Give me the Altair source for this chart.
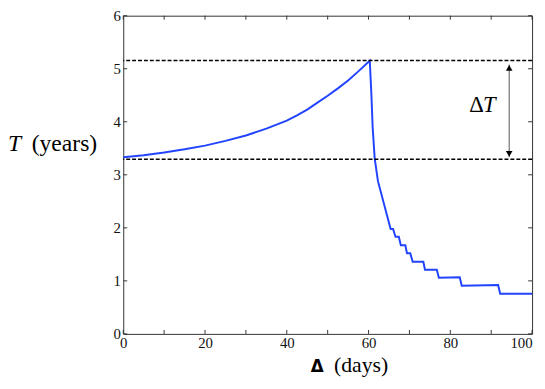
import altair as alt
import pandas as pd

# ---------------- data ----------------
days = [0, 5, 10, 15, 20, 25, 30, 35, 40, 42.5, 45, 47.5, 50, 52.5, 55, 57.5, 60.3,
        60.7, 61.0, 61.5, 62.3, 65.4, 66.0, 66.6, 67.4, 67.9, 69.0, 69.4, 70.2,
        70.8, 73.4, 73.8, 76.7, 77.2, 82.3, 82.8, 91.7, 92.2, 100]
T_years = [3.33, 3.37, 3.42, 3.48, 3.55, 3.64, 3.74, 3.87, 4.02, 4.12, 4.23, 4.36, 4.49, 4.63, 4.78, 4.95, 5.15,
           4.51, 3.90, 3.31, 2.88, 1.98, 1.98, 1.83, 1.83, 1.67, 1.67, 1.52, 1.52,
           1.36, 1.36, 1.21, 1.21, 1.06, 1.07, 0.91, 0.92, 0.755, 0.755]
levels = [5.155, 3.293]
x_ticks = [0, 10, 20, 30, 40, 50, 60, 70, 80, 90, 100]
y_ticks = [0, 1, 2, 3, 4, 5, 6]

line_df = pd.DataFrame({"day": days, "T": T_years, "idx": list(range(len(days)))})
lev_df = pd.DataFrame({"level": levels})
xt_df = pd.DataFrame({"xt": x_ticks})
yt_df = pd.DataFrame({"yt": y_ticks})
one = pd.DataFrame({"a": [0]})

FONT = "Liberation Serif"
W, H = 415, 323
TICK = 4
TICK_COLOR = "#333"
xscale = alt.Scale(domain=[0, 100], nice=False, zero=False)
yscale = alt.Scale(domain=[0, 6], nice=False, zero=False)

common = dict(domain=False, grid=False, ticks=False, labelFont=FONT, labelFontSize=15,
              labelColor="#111", title=None)

x_axis = alt.Axis(values=x_ticks, labelFlush=False, labelPadding=2,
                  labelExpr="datum.value % 20 == 0 ? datum.label : ''",
                  labelAlign={"condition": {"test": "datum.value == 100", "value": "right"}, "value": "center"},
                  **common)
y_axis = alt.Axis(values=y_ticks, labelPadding=3, **common)

line = alt.Chart(line_df).mark_line(color="#2244ff", strokeWidth=2).encode(
    x=alt.X("day:Q", scale=xscale, axis=x_axis),
    y=alt.Y("T:Q", scale=yscale, axis=y_axis),
    order="idx:Q",
)

# inward tick marks on all four sides (positions from the scales)
xt_bottom = alt.Chart(xt_df).mark_rule(color=TICK_COLOR, strokeWidth=1).encode(
    x=alt.X("xt:Q", scale=xscale, axis=None), y=alt.value(H), y2=alt.value(H - TICK))
xt_top = alt.Chart(xt_df).mark_rule(color=TICK_COLOR, strokeWidth=1).encode(
    x=alt.X("xt:Q", scale=xscale, axis=None), y=alt.value(0), y2=alt.value(TICK))
yt_left = alt.Chart(yt_df).mark_rule(color=TICK_COLOR, strokeWidth=1).encode(
    y=alt.Y("yt:Q", scale=yscale, axis=None), x=alt.value(0), x2=alt.value(TICK))
yt_right = alt.Chart(yt_df).mark_rule(color=TICK_COLOR, strokeWidth=1).encode(
    y=alt.Y("yt:Q", scale=yscale, axis=None), x=alt.value(W), x2=alt.value(W - TICK))

dashed = alt.Chart(lev_df).mark_rule(color="black", strokeDash=[4, 2], strokeWidth=1.5).encode(
    y=alt.Y("level:Q", scale=yscale, axis=None)
)

arrow_line = alt.Chart(one).mark_rule(color="#555", strokeWidth=1).encode(
    x=alt.XDatum(94.4, scale=xscale, axis=None),
    y=alt.YDatum(3.33, axis=None),
    y2=alt.Y2Datum(5.08),
)
head_up = alt.Chart(one).mark_point(shape="triangle-up", filled=True, color="black",
                                    size=45, opacity=1).encode(
    x=alt.XDatum(94.4, axis=None), y=alt.YDatum(5.015, axis=None))
head_down = alt.Chart(one).mark_point(shape="triangle-down", filled=True, color="black",
                                      size=45, opacity=1).encode(
    x=alt.XDatum(94.4, axis=None), y=alt.YDatum(3.395, axis=None))

dT_delta = alt.Chart(one).mark_text(text="Δ", font=FONT, fontSize=23, align="center",
                                    baseline="middle", color="black").encode(
    x=alt.XDatum(86.4, axis=None), y=alt.YDatum(4.32, axis=None))
dT_T = alt.Chart(one).mark_text(text="T", font=FONT, fontSize=23, fontStyle="italic",
                                align="left", baseline="middle", color="black").encode(
    x=alt.XDatum(88.0, axis=None), y=alt.YDatum(4.32, axis=None))

ytitle_T = alt.Chart(one).mark_text(text="T", font=FONT, fontSize=24, fontStyle="italic",
                                    align="left", baseline="middle", color="black").encode(
    x=alt.value(-117), y=alt.value(130))
ytitle_rest = alt.Chart(one).mark_text(text="(years)", font=FONT, fontSize=24,
                                       align="left", baseline="middle", color="black").encode(
    x=alt.value(-93), y=alt.value(130))
xtitle_D = alt.Chart(one).mark_text(text="Δ", font="DejaVu Sans", fontSize=17, fontWeight="bold",
                                    align="center", baseline="alphabetic", color="black").encode(
    x=alt.value(197), y=alt.value(362))
xtitle_rest = alt.Chart(one).mark_text(text="(days)", font=FONT, fontSize=22,
                                       align="left", baseline="alphabetic", color="black").encode(
    x=alt.value(214), y=alt.value(362))

chart = alt.layer(
    line, dashed, xt_bottom, xt_top, yt_left, yt_right,
    arrow_line, head_up, head_down, dT_delta, dT_T,
    ytitle_T, ytitle_rest, xtitle_D, xtitle_rest,
).resolve_axis(x="independent", y="independent").properties(
    width=W, height=H,
    autosize=alt.AutoSizeParams(type="none"),
    padding={"left": 117, "top": 5, "right": 5, "bottom": 45},
).configure(background="white").configure_view(stroke="#333", strokeWidth=1)

chart.save("out.html", embed_options={"renderer": "svg", "actions": False})
